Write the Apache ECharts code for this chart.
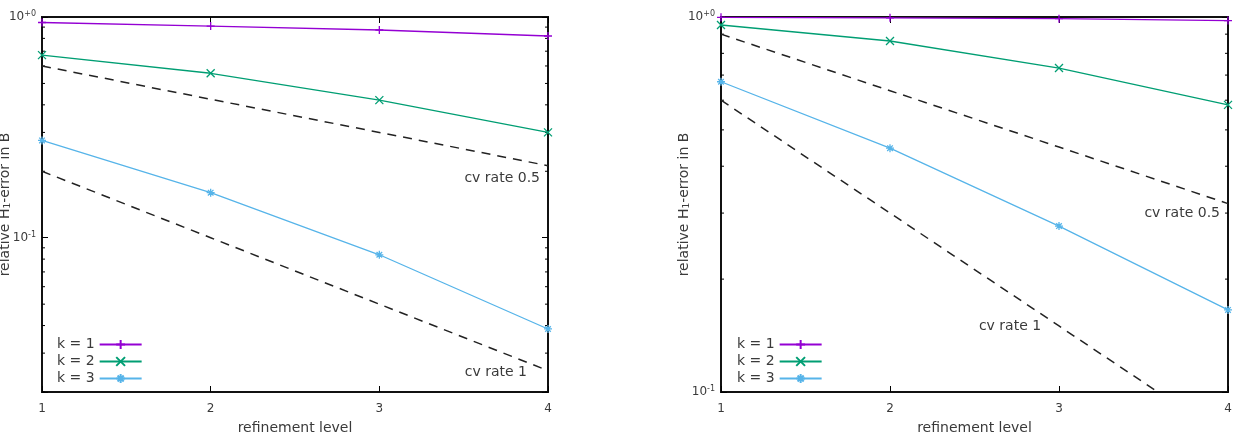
<!DOCTYPE html>
<html>
<head>
<meta charset="utf-8">
<script src="https://cdn.jsdelivr.net/npm/echarts@6/dist/echarts.min.js"></script>
<style>
  html, body { margin: 0; padding: 0; background: #fff; }
  #chart { width: 1242px; height: 444px; }
</style>
</head>
<body>
<div id="chart"></div>
<script>
    // refinement levels
    var levels = [1, 2, 3, 4];
    var seriesNames = ['k = 1', 'k = 2', 'k = 3'];

    // left plot
    var leftK1 = [0.944, 0.91, 0.873, 0.82];
    var leftK2 = [0.672, 0.556, 0.42, 0.30];
    var leftK3 = [0.276, 0.160, 0.0837, 0.0386];
    var leftRate05 = [0.6, 0.424, 0.3, 0.212];
    var leftRate1 = [0.2, 0.1, 0.05, 0.025];

    // right plot
    var rightK1 = [0.998, 0.995, 0.99, 0.978];
    var rightK2 = [0.952, 0.863, 0.731, 0.583];
    var rightK3 = [0.672, 0.447, 0.277, 0.1655];
    var rightRate05 = [0.9, 0.636, 0.45, 0.318];
    var rightRate1 = [0.6, 0.3, 0.15, 0.075];

    // minor ticks of the log axes
    var leftMinorTicks = [0.02, 0.03, 0.04, 0.05, 0.06, 0.07, 0.08, 0.09, 0.2, 0.3, 0.4, 0.5, 0.6, 0.7, 0.8, 0.9];
    var rightMinorTicks = [0.2, 0.3, 0.4, 0.5, 0.6, 0.7, 0.8, 0.9];

    var colors = ['#9400d3', '#009e73', '#56b4e9'];
    var symbols = [
        'path://M5,0L5,10M0,5L10,5',
        'path://M0,0L10,10M10,0L0,10',
        'path://M5,0L5,10M0,5L10,5M1.5,1.5L8.5,8.5M8.5,1.5L1.5,8.5'
    ];
    var font = 'DejaVu Sans';
    var textColor = '#3a3a3a';

    var chart = echarts.init(document.getElementById('chart'));

    function zip(ys) {
        return levels.map(function (x, i) { return [x, ys[i]]; });
    }

    function powLabel(v) {
        var l = Math.log(v) / Math.LN10;
        var e = Math.round(l);
        if (Math.abs(l - e) > 1e-6) return '';
        return '10{sup|' + (e >= 0 ? '+' : '-') + Math.abs(e) + '}';
    }

    function xAxes(idx) {
        return [{
            gridIndex: idx, type: 'value', min: 1, max: 4, interval: 1,
            name: 'refinement level', nameLocation: 'middle', nameGap: 29,
            nameTextStyle: { fontFamily: font, fontSize: 14, color: textColor },
            axisLine: { show: false },
            axisTick: { inside: true, length: 6, lineStyle: { color: '#000' } },
            axisLabel: { fontFamily: font, fontSize: 12, color: textColor, margin: 11 },
            splitLine: { show: false }
        }, {
            gridIndex: idx, type: 'value', min: 1, max: 4, interval: 1, position: 'top',
            axisLine: { show: false },
            axisTick: { inside: true, length: 6, lineStyle: { color: '#000' } },
            axisLabel: { show: false },
            splitLine: { show: false }
        }];
    }

    function yAxes(idx, min) {
        return [{
            gridIndex: idx, type: 'log', logBase: 10, min: min, max: 1,
            name: 'relative H{sub|1}-error in B', nameLocation: 'middle', nameGap: 30,
            nameMoveOverlap: false,
            nameTextStyle: {
                fontFamily: font, fontSize: 14, color: textColor,
                rich: { sub: { fontFamily: font, fontSize: 9, color: textColor, verticalAlign: 'bottom', padding: [5, 0, 0, 0] } }
            },
            axisLine: { show: false },
            axisTick: { inside: true, length: 6, lineStyle: { color: '#000' } },
            axisLabel: {
                fontFamily: font, fontSize: 12, color: textColor, margin: 6,
                showMinLabel: true, showMaxLabel: true,
                formatter: powLabel,
                rich: { sup: { fontFamily: font, fontSize: 8, color: textColor, verticalAlign: 'top', padding: [0, 0, 6, 0] } }
            },
            splitLine: { show: false }
        }, {
            gridIndex: idx, type: 'log', logBase: 10, min: min, max: 1, position: 'right',
            axisLine: { show: false },
            axisTick: { inside: true, length: 6, lineStyle: { color: '#000' } },
            axisLabel: { show: false },
            splitLine: { show: false }
        }];
    }

    function dataSeries(idx, sets) {
        return sets.map(function (ys, i) {
            return {
                name: seriesNames[i], type: 'line',
                xAxisIndex: idx * 2, yAxisIndex: idx * 2,
                data: zip(ys),
                symbol: symbols[i], symbolSize: 8,
                showAllSymbol: true,
                lineStyle: { color: colors[i], width: 1.3 },
                itemStyle: { color: colors[i], borderColor: colors[i], borderWidth: 1.3 },
                z: 5
            };
        });
    }

    function rateSeries(idx, ys, mark) {
        return {
            name: 'rate', type: 'line',
            xAxisIndex: idx * 2, yAxisIndex: idx * 2,
            data: zip(ys),
            symbol: 'none',
            lineStyle: { color: '#222', width: 1.5, type: [9, 7] },
            clip: true,
            silent: true,
            markPoint: {
                silent: true,
                symbol: 'circle', symbolSize: 1,
                itemStyle: { color: 'rgba(0,0,0,0)' },
                data: [mark]
            },
            z: 3
        };
    }

    function cvLabel(x, y, text, offset, align) {
        return {
            coord: [x, y],
            label: {
                show: true, position: 'inside', formatter: text,
                align: align, verticalAlign: 'middle', offset: offset,
                fontFamily: font, fontSize: 14, color: textColor
            }
        };
    }

    function minorSeries(idx, ticks) {
        return {
            type: 'custom', silent: true,
            xAxisIndex: idx * 2, yAxisIndex: idx * 2,
            data: ticks.map(function (v) { return [1, v]; }),
            renderItem: function (params, api) {
                var a = api.coord([1, api.value(1)]);
                var b = api.coord([4, api.value(1)]);
                var st = { stroke: '#000', lineWidth: 1 };
                return {
                    type: 'group',
                    children: [
                        { type: 'line', shape: { x1: a[0], y1: a[1], x2: a[0] + 3, y2: a[1] }, style: st },
                        { type: 'line', shape: { x1: b[0], y1: b[1], x2: b[0] - 3, y2: b[1] }, style: st }
                    ]
                };
            },
            z: 2
        };
    }

    function legend(left) {
        return {
            data: seriesNames, orient: 'vertical', left: left, top: 331,
            align: 'right', itemWidth: 42, itemHeight: 11, itemGap: 0,
            selectedMode: false,
            textStyle: { fontFamily: font, fontSize: 14, lineHeight: 17, color: textColor }
        };
    }

    var option = {
        animation: false,
        grid: [
            { left: 42, top: 17, width: 506, height: 375, show: true, borderColor: '#111', borderWidth: 2, backgroundColor: '#fff', outerBoundsMode: 'none', containLabel: false },
            { left: 721, top: 17, width: 507, height: 375, show: true, borderColor: '#111', borderWidth: 2, backgroundColor: '#fff', outerBoundsMode: 'none', containLabel: false }
        ],
        legend: [legend(52), legend(732)],
        xAxis: xAxes(0).concat(xAxes(1)),
        yAxis: yAxes(0, 0.02).concat(yAxes(1, 0.1)),
        series: []
            .concat(dataSeries(0, [leftK1, leftK2, leftK3]))
            .concat(dataSeries(1, [rightK1, rightK2, rightK3]))
            .concat([
                rateSeries(0, leftRate05, cvLabel(4, leftRate05[3], 'cv rate 0.5', [-8, 13], 'right')),
                rateSeries(0, leftRate1, cvLabel(4, leftRate1[3], 'cv rate 1', [-21, 2], 'right')),
                rateSeries(1, rightRate05, cvLabel(4, rightRate05[3], 'cv rate 0.5', [-8, 10], 'right')),
                rateSeries(1, rightRate1, cvLabel(3, rightRate1[2], 'cv rate 1', [-49, 0], 'center')),
                minorSeries(0, leftMinorTicks),
                minorSeries(1, rightMinorTicks)
            ])
    };

    chart.setOption(option);
</script>
</body>
</html>
